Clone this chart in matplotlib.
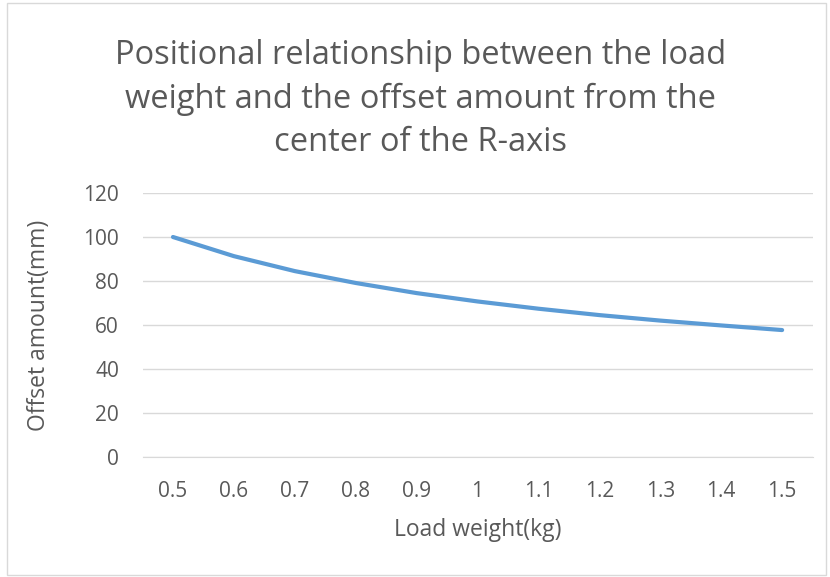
import matplotlib
matplotlib.use("Agg")
import matplotlib.pyplot as plt
from matplotlib.patches import Rectangle

categories = ["0.5", "0.6", "0.7", "0.8", "0.9", "1", "1.1", "1.2", "1.3", "1.4", "1.5"]
offset_mm = [100, 91.3, 84.5, 79.1, 74.5, 70.7, 67.4, 64.5, 62.0, 59.8, 57.7]
y_ticks = [0, 20, 40, 60, 80, 100, 120]

plt.rcParams['font.family'] = ['Open Sans', 'DejaVu Sans']
text_color = '#595959'

fig = plt.figure(figsize=(8.3, 5.77), dpi=100)
fig.patches.append(Rectangle((0.008, 0.004), 0.987, 0.99, transform=fig.transFigure,
                             fill=False, edgecolor='#D9D9D9', linewidth=1))
ax = fig.add_axes([0.1717, 0.208, 0.8073, 0.4575])

x = list(range(len(categories)))
ax.plot(x, offset_mm, color='#5B9BD5', linewidth=3, solid_capstyle='round')
ax.set_xlim(-0.5, len(categories) - 0.5)
ax.set_ylim(0, 120)
ax.set_yticks(y_ticks)
ax.set_xticks(x)
ax.set_xticklabels(categories)
ax.grid(axis='y', color='#D9D9D9', linewidth=1)
ax.set_axisbelow(True)
for s in ['top', 'right', 'left']:
    ax.spines[s].set_visible(False)
ax.spines['bottom'].set_color('#D9D9D9')
ax.tick_params(axis='both', length=0, labelsize=15, colors=text_color)
ax.tick_params(axis='y', pad=17)
ax.tick_params(axis='x', pad=17)
ax.set_xlabel('Load weight(kg)', fontsize=16.5, color=text_color, labelpad=12)
ax.set_ylabel('Offset amount(mm)', fontsize=16.5, color=text_color, labelpad=23)

fig.text(0.507, 0.828, 'Positional relationship between the load\nweight and the offset amount from the\ncenter of the R-axis',
         ha='center', va='center', fontsize=23.5, color=text_color, linespacing=1.42)

fig.savefig('out.png', dpi=100)
